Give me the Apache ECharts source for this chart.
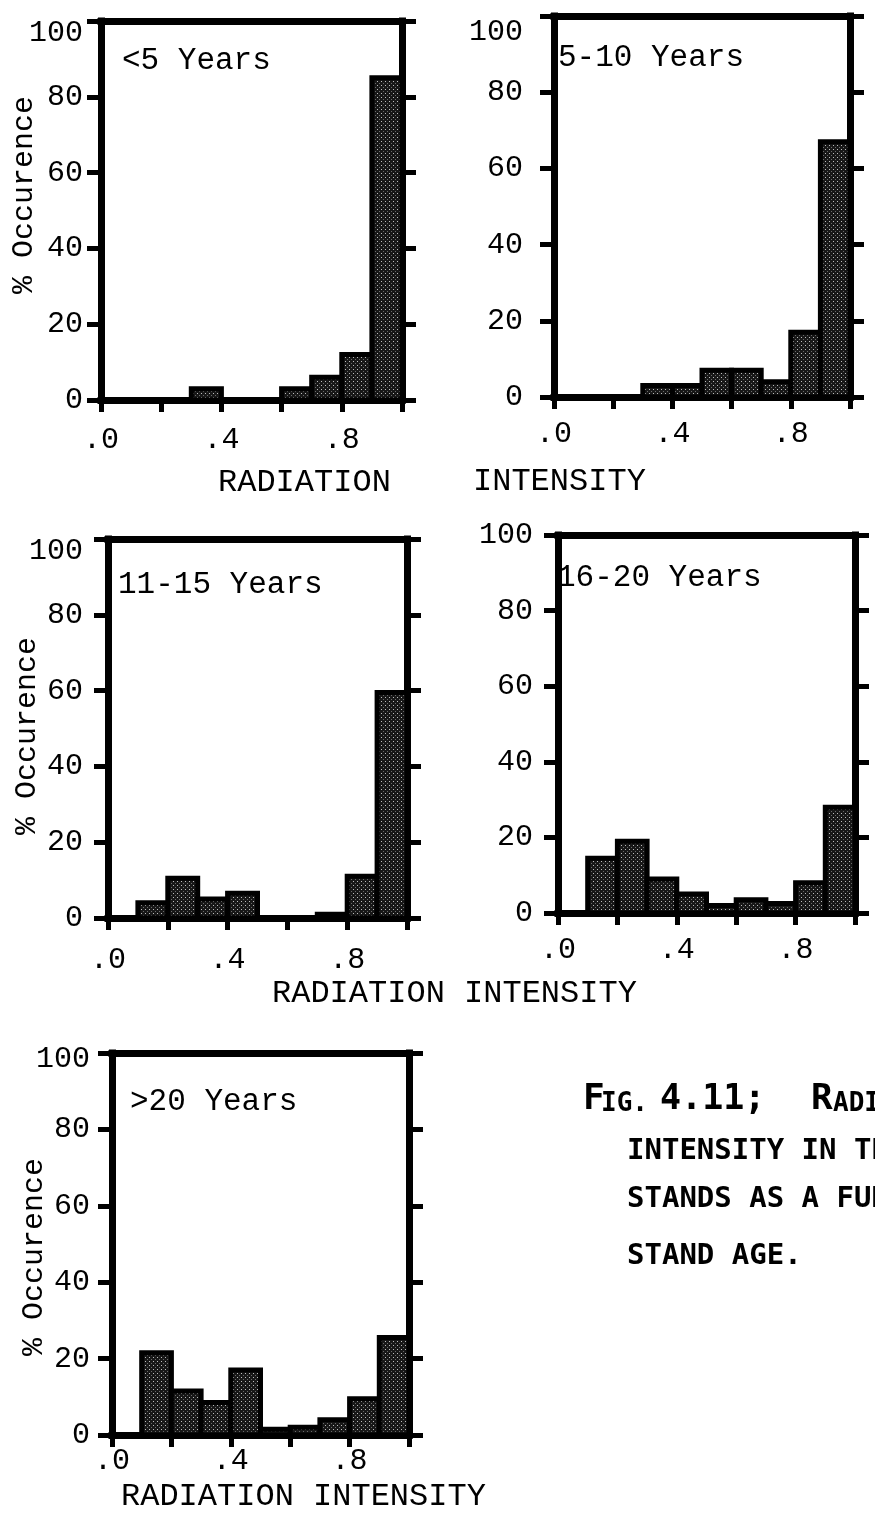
<!DOCTYPE html>
<html><head><meta charset="utf-8">
<script src="https://cdn.jsdelivr.net/npm/echarts@6/dist/echarts.min.js"></script>
<style>html,body{margin:0;padding:0;background:#fff}#c{width:875px;height:1526px}</style>
</head><body><div id="c"></div>
<script>
// ---- data ----
const binStarts = [0.0, 0.1, 0.2, 0.3, 0.4, 0.5, 0.6, 0.7, 0.8, 0.9];
const binWidth = 0.1;
const xTickValues = [0, 0.2, 0.4, 0.6, 0.8, 1.0];
const xTickLabels = ['.0', '', '.4', '', '.8', ''];
const panelTitles = ['<5 Years', '5-10 Years', '11-15 Years', '16-20 Years', '>20 Years'];
const under5 = [0, 0, 0, 3, 0, 0, 3, 6, 12, 85];
const years5to10 = [0, 0, 0, 3, 3, 7, 7, 4, 17, 67];
const years11to15 = [0, 4, 10.5, 5, 6.5, 0, 0, 1, 11, 59.5];
const years16to20 = [0, 14.5, 19, 9, 5, 2, 3.5, 2.5, 8, 28];
const over20 = [0, 21.5, 11.5, 8.5, 17, 1.5, 2, 4, 9.5, 25.5];
const yAxisName = '% Occurence';
const xWord1 = 'RADIATION';
const xWord2 = 'INTENSITY';
const captionHead = ['F', 'IG.', '4.11;', 'R', 'ADIATION'];
const captionLines = ['INTENSITY IN THE', 'STANDS AS A FUNCTION OF', 'STAND AGE.'];

// ---- layout ----
const MONO = '"Liberation Mono", "DejaVu Sans Mono", monospace';
const CAP = '"DejaVu Sans Mono", "Liberation Mono", monospace';
const layout = [
  {vals: under5,      grid: [101, 21, 301, 379],  ylm: 18, xlm: 25, topShift: 12, title: [122, 61],  yname: [24, 195]},
  {vals: years5to10,  grid: [554, 16, 296, 381],  ylm: 31, xlm: 22, topShift: 16, title: [558, 58],  yname: null},
  {vals: years11to15, grid: [108, 539, 299, 379], ylm: 25, xlm: 27, topShift: 12, title: [118, 585], yname: [27, 736]},
  {vals: years16to20, grid: [558, 535, 297, 378], ylm: 25, xlm: 22, topShift: 0,  title: [557, 578], yname: null},
  {vals: over20,      grid: [112, 1053, 297, 382],ylm: 22, xlm: 11, topShift: 6,  title: [130, 1102],yname: [34, 1257]}
];

// stipple pattern (dark with sparse light dots)
const pc = document.createElement('canvas');
pc.width = 4; pc.height = 4;
const pctx = pc.getContext('2d');
pctx.fillStyle = '#181818'; pctx.fillRect(0, 0, 4, 4);
pctx.fillStyle = '#bdbdbd'; pctx.fillRect(1, 1, 1, 1);
pctx.fillStyle = '#6a6a6a'; pctx.fillRect(3, 3, 1, 1);
const pattern = {image: pc, repeat: 'repeat'};

const lineStyle = {color: '#000', width: 7, cap: 'square'};
const tickStyle = {color: '#000', width: 5};

function xLabel(v) {
  for (let k = 0; k < xTickValues.length; k++) {
    if (Math.abs(v - xTickValues[k]) < 1e-6) return xTickLabels[k];
  }
  return '';
}

const option = {animation: false, backgroundColor: '#fff', grid: [], xAxis: [], yAxis: [], series: [], graphic: []};

layout.forEach((p, i) => {
  option.grid.push({left: p.grid[0], top: p.grid[1], width: p.grid[2], height: p.grid[3]});
  option.xAxis.push({
    type: 'value', gridIndex: i, min: 0, max: 1, interval: 0.2, position: 'bottom',
    axisLine: {show: true, onZero: false, lineStyle: lineStyle},
    axisTick: {show: true, inside: false, length: 12, lineStyle: tickStyle},
    axisLabel: {margin: p.xlm, fontFamily: MONO, fontSize: 30, color: '#000', formatter: xLabel, showMinLabel: true, showMaxLabel: true},
    splitLine: {show: false}
  });
  option.xAxis.push({
    type: 'value', gridIndex: i, min: 0, max: 1, interval: 0.2, position: 'top',
    axisLine: {show: true, onZero: false, lineStyle: lineStyle},
    axisTick: {show: false}, axisLabel: {show: false}, splitLine: {show: false}
  });
  option.yAxis.push({
    type: 'value', gridIndex: i, min: 0, max: 100, interval: 20, position: 'left',
    axisLine: {show: true, onZero: false, lineStyle: lineStyle},
    axisTick: {show: true, inside: false, length: 14, lineStyle: tickStyle},
    axisLabel: {margin: p.ylm, fontFamily: MONO, fontSize: 30, color: '#000',
      formatter: v => (v === 100 ? '{t|100}' : String(v)),
      rich: {t: {fontFamily: MONO, fontSize: 30, color: '#000', padding: [p.topShift * 2, 0, 0, 0]}}},
    splitLine: {show: false}
  });
  option.yAxis.push({
    type: 'value', gridIndex: i, min: 0, max: 100, interval: 20, position: 'right',
    axisLine: {show: true, onZero: false, lineStyle: lineStyle},
    axisTick: {show: true, inside: false, length: 14, lineStyle: tickStyle},
    axisLabel: {show: false}, splitLine: {show: false}
  });
  const data = [];
  binStarts.forEach((b, k) => { if (p.vals[k] > 0) data.push([b, b + binWidth, p.vals[k]]); });
  option.series.push({
    type: 'custom', xAxisIndex: 2 * i, yAxisIndex: 2 * i, z: 1,
    encode: {x: [0, 1], y: 2},
    data: data,
    renderItem: function (params, api) {
      const a = api.coord([api.value(0), api.value(2)]);
      const b = api.coord([api.value(1), 0]);
      return {type: 'rect', shape: {x: a[0], y: a[1], width: b[0] - a[0], height: b[1] - a[1]},
        style: {fill: pattern, stroke: '#000', lineWidth: 5, lineJoin: 'miter'}};
    }
  });
  option.graphic.push({type: 'text', x: p.title[0], y: p.title[1],
    style: {text: panelTitles[i], font: '31px ' + MONO, fill: '#000', align: 'left', verticalAlign: 'middle'}});
  if (p.yname) {
    option.graphic.push({type: 'text', x: p.yname[0], y: p.yname[1], rotation: Math.PI / 2,
      style: {text: yAxisName, font: '30px ' + MONO, fill: '#000', align: 'center', verticalAlign: 'middle'}});
  }
});

// axis titles
function addTitle(txt, x, y) {
  option.graphic.push({type: 'text', x: x, y: y,
    style: {text: txt, font: '32px ' + MONO, fill: '#000', align: 'left', verticalAlign: 'middle'}});
}
addTitle(xWord1, 218, 483);
addTitle(xWord2, 473, 482);
addTitle(xWord1 + ' ' + xWord2, 272, 994);
addTitle(xWord1 + ' ' + xWord2, 121, 1497);

// caption
const headPos = [[583, 1100, 36], [601, 1104, 26], [660, 1100, 35], [811, 1100, 36], [833, 1104, 26]];
captionHead.forEach((t, k) => {
  option.graphic.push({type: 'text', x: headPos[k][0], y: headPos[k][1],
    style: {text: t, font: 'bold ' + headPos[k][2] + 'px ' + CAP, fill: '#000', align: 'left', verticalAlign: 'middle'}});
});
const capY = [1151, 1199, 1256];
captionLines.forEach((t, k) => {
  option.graphic.push({type: 'text', x: 627, y: capY[k],
    style: {text: t, font: 'bold 29px ' + CAP, fill: '#000', align: 'left', verticalAlign: 'middle'}});
});

const chart = echarts.init(document.getElementById('c'), null, {renderer: 'canvas'});
chart.setOption(option);
</script>
</body></html>
